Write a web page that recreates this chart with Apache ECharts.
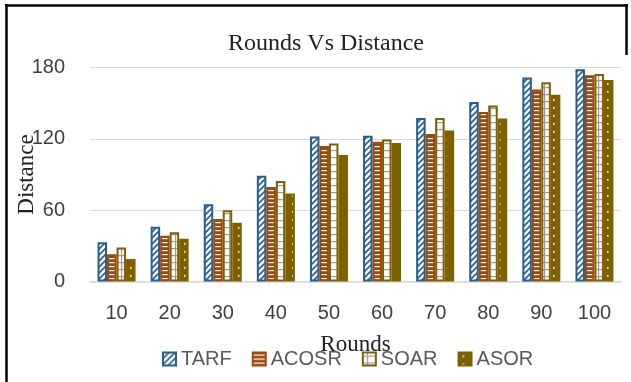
<!DOCTYPE html>
<html><head><meta charset="utf-8">
<script src="https://cdn.jsdelivr.net/npm/echarts@6/dist/echarts.min.js"></script>
<style>html,body{margin:0;padding:0;background:#fff}#c{width:631px;height:382px}</style>
</head><body><div id="c"></div>
<script>
var categories = ['10','20','30','40','50','60','70','80','90','100'];
var tarf  = [33, 46, 65, 89, 122, 122.5, 137.5, 151, 171.5, 178.5];
var acosr = [23, 38.5, 52.5, 79.5, 114, 117.5, 124, 142.5, 161.5, 173.5];
var soar  = [28.5, 41.5, 60, 84.5, 116, 119.5, 137.5, 148, 167.5, 174.5];
var asor  = [19, 36, 49.5, 74, 106.5, 116.5, 127, 137, 157, 169.5];
var yTicks = [0, 60, 120, 180];

function pat(w, h, draw) {
  var c = document.createElement('canvas'); c.width = w; c.height = h;
  var g = c.getContext('2d'); draw(g, w, h);
  return { image: c, repeat: 'repeat' };
}
var BLUE = '#255E91', BROWN = '#9E480E', OLIVE = '#7F6000';
var pTarf = pat(6, 6, function (g, w, h) {
  g.fillStyle = '#fff'; g.fillRect(0, 0, w, h);
  g.strokeStyle = BLUE; g.lineWidth = 1.6;
  g.beginPath(); g.moveTo(0, h); g.lineTo(w, 0); g.stroke();
  g.beginPath(); g.moveTo(-1, 1); g.lineTo(1, -1); g.stroke();
  g.beginPath(); g.moveTo(w - 1, h + 1); g.lineTo(w + 1, h - 1); g.stroke();
});
var pAcosr = pat(4, 4, function (g, w, h) {
  g.fillStyle = BROWN; g.fillRect(0, 0, w, h);
  g.fillStyle = '#fff'; g.fillRect(0, 2, w, 1.2);
});
var pSoar = pat(9, 7, function (g, w, h) {
  g.fillStyle = '#fff'; g.fillRect(0, 0, w, h);
  g.fillStyle = '#9a9a9a'; g.fillRect(0, 3, w, 1.2); g.fillRect(4, 0, 1.2, h);
});
var pAsor = pat(9, 8, function (g, w, h) {
  g.fillStyle = OLIVE; g.fillRect(0, 0, w, h);
  g.fillStyle = '#fff'; g.fillRect(4, 3, 1.6, 1.6);
});

function ser(name, data, fill, border) {
  return {
    name: name, type: 'bar', data: data, barWidth: 9.5, barGap: '0%',
    itemStyle: { color: fill, borderColor: border, borderWidth: 2 }
  };
}

var chart = echarts.init(document.getElementById('c'), null, { renderer: 'canvas' });
chart.setOption({
  animation: false,
  backgroundColor: '#fff',
  title: { text: 'Rounds Vs Distance', left: 321, textAlign: 'center', top: 27,
    textStyle: { fontFamily: 'Liberation Serif', fontSize: 24, fontWeight: 'normal', color: '#222' } },
  grid: { left: 90, right: 10, top: 67.5, bottom: 100.5, containLabel: false, outerBoundsMode: 'none' },
  legend: {
    left: 162, top: 349, padding: 0, itemWidth: 13, itemHeight: 13, itemGap: 20, icon: 'rect',
    textStyle: { fontFamily: 'Liberation Sans', fontSize: 20, color: '#595959' },
    data: ['TARF', 'ACOSR', 'SOAR', 'ASOR']
  },
  xAxis: {
    type: 'category', data: categories,
    name: 'Rounds', nameLocation: 'middle', nameGap: 52, nameMoveOverlap: false,
    nameTextStyle: { fontFamily: 'Liberation Serif', fontSize: 23, color: '#222' },
    axisLine: { lineStyle: { color: '#d9d9d9', width: 1.5 } },
    axisTick: { show: false },
    axisLabel: { fontFamily: 'Liberation Sans', fontSize: 20, color: '#404040', margin: 22 }
  },
  yAxis: {
    type: 'value', min: yTicks[0], max: yTicks[yTicks.length - 1], interval: 60,
    name: 'Distance', nameLocation: 'middle', nameGap: 52, nameRotate: 90, nameMoveOverlap: false,
    nameTextStyle: { fontFamily: 'Liberation Serif', fontSize: 23, color: '#222' },
    axisLine: { show: false }, axisTick: { show: false },
    axisLabel: { fontFamily: 'Liberation Sans', fontSize: 20, color: '#404040', margin: 25 },
    splitLine: { lineStyle: { color: '#d9d9d9', width: 1.2 } }
  },
  series: [
    ser('TARF', tarf, pTarf, BLUE),
    ser('ACOSR', acosr, pAcosr, BROWN),
    ser('SOAR', soar, pSoar, OLIVE),
    ser('ASOR', asor, pAsor, OLIVE)
  ],
  graphic: [
    { type: 'line', shape: { x1: 6.5, y1: 4, x2: 6.5, y2: 382 }, style: { stroke: '#000', lineWidth: 2.5 } },
    { type: 'line', shape: { x1: 5, y1: 5.5, x2: 628, y2: 5.5 }, style: { stroke: '#000', lineWidth: 2.5 } },
    { type: 'line', shape: { x1: 626.5, y1: 4, x2: 626.5, y2: 55 }, style: { stroke: '#000', lineWidth: 2.5 } }
  ]
});
</script></body></html>
